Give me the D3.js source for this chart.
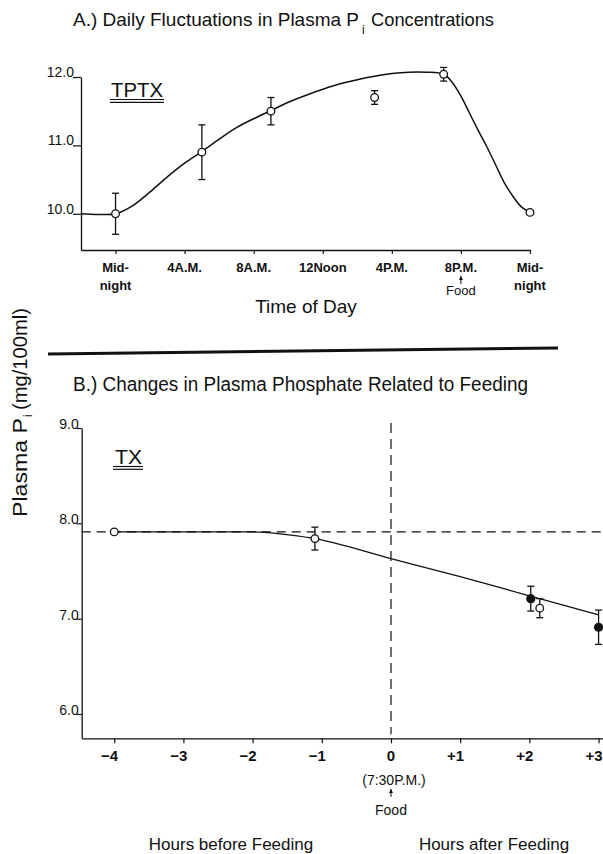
<!DOCTYPE html>
<html>
<head>
<meta charset="utf-8">
<script src="https://cdn.jsdelivr.net/npm/d3@7"></script>
<style>
    body { margin: 0; background: #fff; }
    svg text { font-family: "Liberation Sans", Arial, sans-serif; fill: #111; }
</style>
</head>
<body>
<svg id="chart" width="603" height="854"></svg>
<script>
// ---- panel A: daily fluctuations (TPTX) ----
const hoursA = [0, 5, 9, 15, 19, 24];
const meanA = [10.0, 10.9, 11.5, 11.7, 12.04, 10.02];
const semA = [0.3, 0.4, 0.2, 0.1, 0.1, 0.03];

// hand-drawn smooth curve
const curveHoursA = [-2, -1, 0, 1, 2, 3, 4, 5, 6, 7, 8, 9, 10, 11, 12, 13, 14, 15, 16, 17, 18, 19, 19.5, 20, 20.5, 21, 21.5, 22, 22.5, 23, 23.5, 24];
const curveValuesA = [10.0, 9.99, 10.0, 10.12, 10.32, 10.54, 10.74, 10.91, 11.09, 11.26, 11.39, 11.51, 11.63, 11.73, 11.82, 11.9, 11.96, 12.01, 12.05, 12.07, 12.07, 12.04, 11.92, 11.72, 11.47, 11.22, 10.98, 10.72, 10.46, 10.26, 10.1, 10.02];

const xTicksA = [0, 4, 8, 12, 16, 20, 24];
const xLabelsA = [["Mid-", "night"], ["4A.M."], ["8A.M."], ["12Noon"], ["4P.M."], ["8P.M."], ["Mid-", "night"]];
const yTicksA = [10, 11, 12];

// ---- panel B: feeding (TX) ----
const openHoursB = [-4, -1.1, 2.15];
const openValuesB = [7.91, 7.84, 7.11];
const openSemB = [0, 0.12, 0.1];
const filledHoursB = [2.02, 3.0];
const filledValuesB = [7.21, 6.91];
const filledSemB = [0.13, 0.18];

const lineHoursB = [-4, -2, -1.6, -1.1, 0, 1, 2, 3];
const lineValuesB = [7.91, 7.91, 7.89, 7.84, 7.63, 7.44, 7.24, 7.04];
const baselineB = 7.91;

const xTicksB = [-4, -3, -2, -1, 0, 1, 2, 3];
const xLabelsB = ["\u22124", "\u22123", "\u22122", "\u22121", "0", "+1", "+2", "+3"];
const yTicksB = [6, 7, 8, 9];

const ink = "#111";
const svg = d3.select("#chart");

function styleAxis(g) {
    g.select(".domain").attr("stroke", ink).attr("stroke-width", 1.3);
    g.selectAll(".tick line").attr("stroke", ink).attr("stroke-width", 1.2);
}

function errorBars(g, xs, ys, es, x, y, cap) {
    const idx = d3.range(xs.length).filter(i => es[i] > 0);
    const bars = g.append("g").attr("stroke", ink).attr("stroke-width", 1.3);
    bars.selectAll(".stem").data(idx).join("line")
        .attr("x1", i => x(xs[i])).attr("x2", i => x(xs[i]))
        .attr("y1", i => y(ys[i] - es[i])).attr("y2", i => y(ys[i] + es[i]));
    bars.selectAll(".capTop").data(idx).join("line")
        .attr("x1", i => x(xs[i]) - cap).attr("x2", i => x(xs[i]) + cap)
        .attr("y1", i => y(ys[i] + es[i])).attr("y2", i => y(ys[i] + es[i]));
    bars.selectAll(".capBottom").data(idx).join("line")
        .attr("x1", i => x(xs[i]) - cap).attr("x2", i => x(xs[i]) + cap)
        .attr("y1", i => y(ys[i] - es[i])).attr("y2", i => y(ys[i] - es[i]));
}

function upArrow(x, y1, y2) {
    svg.append("line").attr("x1", x).attr("x2", x).attr("y1", y1).attr("y2", y2)
        .attr("stroke", ink).attr("stroke-width", 1);
    svg.append("path").attr("d", `M${x - 2},${y1 + 4}L${x},${y1}L${x + 2},${y1 + 4}Z`).attr("fill", ink);
}

function underline2(x1, x2, y) {
    [0, 2.8].forEach(d => svg.append("line")
        .attr("x1", x1).attr("x2", x2).attr("y1", y + d).attr("y2", y + d)
        .attr("stroke", ink).attr("stroke-width", 1.2));
}

// ================= panel A =================
const xA = d3.scaleLinear().domain([-2, 24]).range([81, 530]);
const yA = d3.scaleLinear().domain([9.47, 12]).range([250, 77]);

const titleA = svg.append("text").attr("font-size", 19);
titleA.append("tspan").attr("x", 73).attr("y", 26)
    .attr("textLength", 286).attr("lengthAdjust", "spacingAndGlyphs")
    .text("A.) Daily Fluctuations in Plasma P");
titleA.append("tspan").attr("x", 362).attr("y", 34).attr("font-size", 12).text("i");
titleA.append("tspan").attr("x", 371).attr("y", 26).attr("font-size", 18.5)
    .attr("textLength", 123).attr("lengthAdjust", "spacingAndGlyphs").text("Concentrations");

svg.append("g").attr("transform", `translate(0,${yA.range()[0]})`)
    .call(d3.axisBottom(xA).tickValues(xTicksA).tickSize(4).tickSizeOuter(0).tickFormat(""))
    .call(styleAxis);
svg.append("g").attr("transform", `translate(${xA.range()[0]},0)`)
    .call(d3.axisLeft(yA).tickValues(yTicksA).tickSize(8).tickSizeOuter(0).tickFormat(""))
    .call(styleAxis);

svg.append("g").selectAll("text").data(yTicksA).join("text")
    .attr("x", xA.range()[0] - 7).attr("y", d => yA(d))
    .attr("text-anchor", "end").attr("font-size", 14)
    .text(d => d.toFixed(1));

const labA = svg.append("g").selectAll("text").data(xTicksA).join("text")
    .attr("text-anchor", "middle").attr("font-size", 13).attr("font-weight", "bold");
labA.each(function (d, i) {
    d3.select(this).selectAll("tspan").data(xLabelsA[i]).join("tspan")
        .attr("x", xA(d)).attr("y", (t, j) => 272 + j * 18).text(t => t);
});
upArrow(xA(20), 276, 284);
svg.append("text").attr("x", xA(20)).attr("y", 295).attr("text-anchor", "middle")
    .attr("font-size", 13).text("Food");

svg.append("text").attr("x", 306).attr("y", 313).attr("text-anchor", "middle")
    .attr("font-size", 19).text("Time of Day");

svg.append("text").attr("x", 111).attr("y", 97).attr("font-size", 21)
    .attr("textLength", 52).attr("lengthAdjust", "spacingAndGlyphs").text("TPTX");
underline2(110, 164, 99.5);

const lineA = d3.line().x(d => xA(d[0])).y(d => yA(d[1])).curve(d3.curveCatmullRom.alpha(0.5));
svg.append("path").datum(d3.zip(curveHoursA, curveValuesA))
    .attr("d", lineA).attr("fill", "none").attr("stroke", ink).attr("stroke-width", 1.5);

errorBars(svg, hoursA, meanA, semA, xA, yA, 3.5);
svg.append("g").selectAll("circle").data(d3.zip(hoursA, meanA)).join("circle")
    .attr("cx", d => xA(d[0])).attr("cy", d => yA(d[1])).attr("r", 3.8)
    .attr("fill", "#fff").attr("stroke", ink).attr("stroke-width", 1.3);

// separator
svg.append("line").attr("x1", 48).attr("x2", 558).attr("y1", 354).attr("y2", 348)
    .attr("stroke", ink).attr("stroke-width", 3);

// shared y label
const yLab = svg.append("text").attr("transform", "translate(27,517) rotate(-90)").attr("font-size", 20);
yLab.append("tspan").attr("x", 0).attr("y", 0)
    .attr("textLength", 99).attr("lengthAdjust", "spacingAndGlyphs").text("Plasma P");
yLab.append("tspan").attr("x", 100).attr("y", 5).attr("font-size", 12).text("i");
yLab.append("tspan").attr("x", 107).attr("y", 0)
    .attr("textLength", 102).attr("lengthAdjust", "spacingAndGlyphs").text("(mg/100ml)");

// ================= panel B =================
const xB = d3.scaleLinear().domain([-4.47, 3.064]).range([81.7, 603]);
const yB = d3.scaleLinear().domain([5.745, 9]).range([738.3, 428]);

svg.append("text").attr("x", 73).attr("y", 391).attr("font-size", 20)
    .attr("textLength", 455).attr("lengthAdjust", "spacingAndGlyphs")
    .text("B.) Changes in Plasma Phosphate Related to Feeding");

svg.append("g").attr("transform", `translate(0,${yB.range()[0]})`)
    .call(d3.axisBottom(xB).tickValues(xTicksB).tickSize(5).tickSizeOuter(0).tickFormat(""))
    .call(styleAxis);
svg.append("g").attr("transform", `translate(${xB.range()[0]},0)`)
    .call(d3.axisLeft(yB).tickValues(yTicksB).tickSize(5).tickSizeOuter(0).tickFormat(""))
    .call(styleAxis);

svg.append("g").selectAll("text").data(yTicksB).join("text")
    .attr("x", xB.range()[0] - 3).attr("y", d => yB(d) + 1)
    .attr("text-anchor", "end").attr("font-size", 14)
    .text(d => d.toFixed(1));

svg.append("g").selectAll("text").data(xTicksB).join("text")
    .attr("x", (d, i) => d === 0 ? xB(d) : xB(d) + 4)
    .attr("y", 761).attr("text-anchor", d => d === 0 ? "middle" : "end")
    .attr("font-size", 15).attr("font-weight", "bold")
    .text((d, i) => xLabelsB[i]);

svg.append("text").attr("x", xB(0) + 3).attr("y", 785).attr("text-anchor", "middle")
    .attr("font-size", 14).text("(7:30P.M.)");
upArrow(xB(0), 789, 797);
svg.append("text").attr("x", xB(0)).attr("y", 815).attr("text-anchor", "middle")
    .attr("font-size", 14).text("Food");

svg.append("text").attr("x", 231).attr("y", 850).attr("text-anchor", "middle")
    .attr("font-size", 17).text("Hours before Feeding");
svg.append("text").attr("x", 494).attr("y", 850).attr("text-anchor", "middle")
    .attr("font-size", 17).text("Hours after Feeding");

svg.append("text").attr("x", 115).attr("y", 464).attr("font-size", 20)
    .attr("textLength", 27).attr("lengthAdjust", "spacingAndGlyphs").text("TX");
underline2(113, 143, 466.5);

// reference dashes
svg.append("line").attr("x1", xB.range()[0]).attr("x2", xB.range()[1])
    .attr("y1", yB(baselineB)).attr("y2", yB(baselineB))
    .attr("stroke", ink).attr("stroke-width", 1.2).attr("stroke-dasharray", "9,6");
svg.append("line").attr("x1", xB(0)).attr("x2", xB(0))
    .attr("y1", 423).attr("y2", yB.range()[0] - 4)
    .attr("stroke", ink).attr("stroke-width", 1.2).attr("stroke-dasharray", "10,6");

const lineB = d3.line().x(d => xB(d[0])).y(d => yB(d[1])).curve(d3.curveMonotoneX);
svg.append("path").datum(d3.zip(lineHoursB, lineValuesB))
    .attr("d", lineB).attr("fill", "none").attr("stroke", ink).attr("stroke-width", 1.3);

errorBars(svg, openHoursB, openValuesB, openSemB, xB, yB, 3.5);
errorBars(svg, filledHoursB, filledValuesB, filledSemB, xB, yB, 3.5);

svg.append("g").selectAll("circle").data(d3.zip(openHoursB, openValuesB)).join("circle")
    .attr("cx", d => xB(d[0])).attr("cy", d => yB(d[1])).attr("r", 3.8)
    .attr("fill", "#fff").attr("stroke", ink).attr("stroke-width", 1.3);
svg.append("g").selectAll("circle").data(d3.zip(filledHoursB, filledValuesB)).join("circle")
    .attr("cx", d => xB(d[0])).attr("cy", d => yB(d[1])).attr("r", 4.6)
    .attr("fill", ink);
</script>
</body>
</html>
